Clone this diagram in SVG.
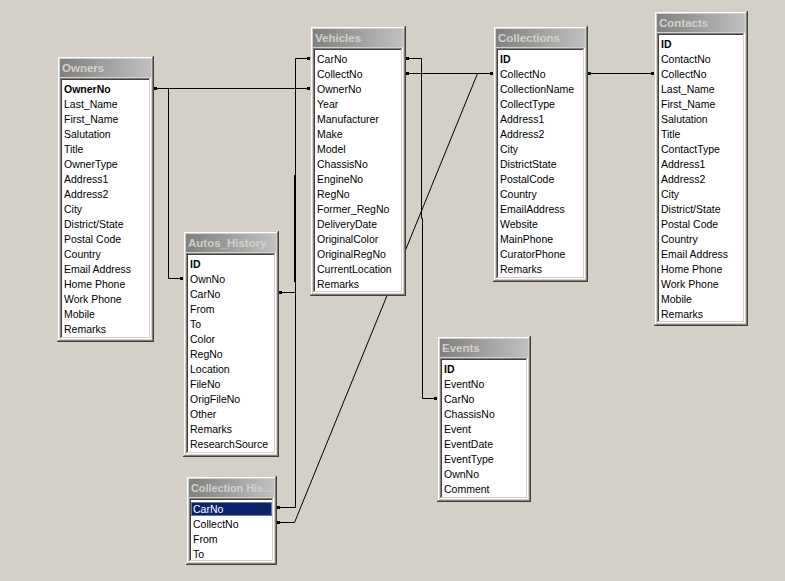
<svg xmlns="http://www.w3.org/2000/svg" width="785" height="581" viewBox="0 0 785 581">
<defs>
<linearGradient id="cap" x1="0" y1="0" x2="1" y2="0">
<stop offset="0" stop-color="#808080"/>
<stop offset="1" stop-color="#C0C0C0"/>
</linearGradient>
</defs>
<style>
.dk{fill:#404040}.fc{fill:#D4D0C8}.sh{fill:#808080}.hl{fill:#FFFFFF}
.cap{fill:url(#cap)}
.t{font-family:"Liberation Sans",Arial,sans-serif;font-size:11.5px;font-weight:bold;fill:#D4D0C8}
.f{font-family:"Liberation Sans",Arial,sans-serif;font-size:10.5px;fill:#000}
.k{font-weight:bold}
.ln{fill:none;stroke:#000;stroke-width:1}
.dot{fill:#000}
</style>
<rect width="785" height="581" fill="#D4D0C8"/>
<g id="connectors">
<path class="ln" d="M154 88.5 H310"/>
<path class="ln" d="M168.5 88 V278.5 H183"/>
<path class="ln" d="M310 58.5 H295.5 V292.5 H279"/>
<path class="ln" d="M295.5 292 V507.5 H277"/>
<path class="ln" d="M294.5 175 V282"/>
<path class="ln" d="M406 73.5 H493"/>
<path class="ln" d="M277 522.5 H294.5 L477.5 73.5"/>
<path class="ln" d="M406 58.5 H421.5 V218.5 H422.5 V398.5 H437"/>
<path class="ln" d="M588 73.5 H654"/>
<rect class="dot" x="154" y="87" width="3" height="3"/>
<rect class="dot" x="307" y="87" width="3" height="3"/>
<rect class="dot" x="180" y="277" width="3" height="3"/>
<rect class="dot" x="307" y="57" width="3" height="3"/>
<rect class="dot" x="279" y="291" width="3" height="3"/>
<rect class="dot" x="277" y="506" width="3" height="3"/>
<rect class="dot" x="277" y="521" width="3" height="3"/>
<rect class="dot" x="406" y="72" width="3" height="3"/>
<rect class="dot" x="490" y="72" width="3" height="3"/>
<rect class="dot" x="406" y="57" width="3" height="3"/>
<rect class="dot" x="434" y="397" width="3" height="3"/>
<rect class="dot" x="588" y="72" width="3" height="3"/>
<rect class="dot" x="651" y="72" width="3" height="3"/>
</g>
<g id="owners">
<rect class="dk" x="57" y="56" width="97" height="286"/>
<rect class="fc" x="57" y="56" width="96" height="285"/>
<rect class="sh" x="58" y="57" width="95" height="284"/>
<rect class="hl" x="58" y="57" width="94" height="283"/>
<rect class="fc" x="59" y="58" width="93" height="282"/>
<rect class="cap" x="60" y="59" width="91" height="18"/>
<text class="t" x="62" y="72">Owners</text>
<rect class="hl" x="60" y="78" width="91" height="261"/>
<rect class="sh" x="60" y="78" width="90" height="260"/>
<rect class="fc" x="61" y="79" width="89" height="259"/>
<rect class="dk" x="61" y="79" width="88" height="258"/>
<rect class="hl" x="62" y="80" width="87" height="257"/>
<text class="f k" x="64" y="93">OwnerNo</text>
<text class="f" x="64" y="108">Last_Name</text>
<text class="f" x="64" y="123">First_Name</text>
<text class="f" x="64" y="138">Salutation</text>
<text class="f" x="64" y="153">Title</text>
<text class="f" x="64" y="168">OwnerType</text>
<text class="f" x="64" y="183">Address1</text>
<text class="f" x="64" y="198">Address2</text>
<text class="f" x="64" y="213">City</text>
<text class="f" x="64" y="228">District/State</text>
<text class="f" x="64" y="243">Postal Code</text>
<text class="f" x="64" y="258">Country</text>
<text class="f" x="64" y="273">Email Address</text>
<text class="f" x="64" y="288">Home Phone</text>
<text class="f" x="64" y="303">Work Phone</text>
<text class="f" x="64" y="318">Mobile</text>
<text class="f" x="64" y="333">Remarks</text>
</g>
<g id="vehicles">
<rect class="dk" x="310" y="26" width="96" height="270"/>
<rect class="fc" x="310" y="26" width="95" height="269"/>
<rect class="sh" x="311" y="27" width="94" height="268"/>
<rect class="hl" x="311" y="27" width="93" height="267"/>
<rect class="fc" x="312" y="28" width="92" height="266"/>
<rect class="cap" x="313" y="29" width="90" height="18"/>
<text class="t" x="315" y="42">Vehicles</text>
<rect class="hl" x="313" y="48" width="90" height="245"/>
<rect class="sh" x="313" y="48" width="89" height="244"/>
<rect class="fc" x="314" y="49" width="88" height="243"/>
<rect class="dk" x="314" y="49" width="87" height="242"/>
<rect class="hl" x="315" y="50" width="86" height="241"/>
<text class="f" x="317" y="63">CarNo</text>
<text class="f" x="317" y="78">CollectNo</text>
<text class="f" x="317" y="93">OwnerNo</text>
<text class="f" x="317" y="108">Year</text>
<text class="f" x="317" y="123">Manufacturer</text>
<text class="f" x="317" y="138">Make</text>
<text class="f" x="317" y="153">Model</text>
<text class="f" x="317" y="168">ChassisNo</text>
<text class="f" x="317" y="183">EngineNo</text>
<text class="f" x="317" y="198">RegNo</text>
<text class="f" x="317" y="213">Former_RegNo</text>
<text class="f" x="317" y="228">DeliveryDate</text>
<text class="f" x="317" y="243">OriginalColor</text>
<text class="f" x="317" y="258">OriginalRegNo</text>
<text class="f" x="317" y="273">CurrentLocation</text>
<text class="f" x="317" y="288">Remarks</text>
</g>
<g id="collections">
<rect class="dk" x="493" y="26" width="95" height="256"/>
<rect class="fc" x="493" y="26" width="94" height="255"/>
<rect class="sh" x="494" y="27" width="93" height="254"/>
<rect class="hl" x="494" y="27" width="92" height="253"/>
<rect class="fc" x="495" y="28" width="91" height="252"/>
<rect class="cap" x="496" y="29" width="89" height="18"/>
<text class="t" x="498" y="42">Collections</text>
<rect class="hl" x="496" y="48" width="89" height="231"/>
<rect class="sh" x="496" y="48" width="88" height="230"/>
<rect class="fc" x="497" y="49" width="87" height="229"/>
<rect class="dk" x="497" y="49" width="86" height="228"/>
<rect class="hl" x="498" y="50" width="85" height="227"/>
<text class="f k" x="500" y="63">ID</text>
<text class="f" x="500" y="78">CollectNo</text>
<text class="f" x="500" y="93">CollectionName</text>
<text class="f" x="500" y="108">CollectType</text>
<text class="f" x="500" y="123">Address1</text>
<text class="f" x="500" y="138">Address2</text>
<text class="f" x="500" y="153">City</text>
<text class="f" x="500" y="168">DistrictState</text>
<text class="f" x="500" y="183">PostalCode</text>
<text class="f" x="500" y="198">Country</text>
<text class="f" x="500" y="213">EmailAddress</text>
<text class="f" x="500" y="228">Website</text>
<text class="f" x="500" y="243">MainPhone</text>
<text class="f" x="500" y="258">CuratorPhone</text>
<text class="f" x="500" y="273">Remarks</text>
</g>
<g id="contacts">
<rect class="dk" x="654" y="11" width="94" height="315"/>
<rect class="fc" x="654" y="11" width="93" height="314"/>
<rect class="sh" x="655" y="12" width="92" height="313"/>
<rect class="hl" x="655" y="12" width="91" height="312"/>
<rect class="fc" x="656" y="13" width="90" height="311"/>
<rect class="cap" x="657" y="14" width="88" height="18"/>
<text class="t" x="659" y="27">Contacts</text>
<rect class="hl" x="657" y="33" width="88" height="290"/>
<rect class="sh" x="657" y="33" width="87" height="289"/>
<rect class="fc" x="658" y="34" width="86" height="288"/>
<rect class="dk" x="658" y="34" width="85" height="287"/>
<rect class="hl" x="659" y="35" width="84" height="286"/>
<text class="f k" x="661" y="48">ID</text>
<text class="f" x="661" y="63">ContactNo</text>
<text class="f" x="661" y="78">CollectNo</text>
<text class="f" x="661" y="93">Last_Name</text>
<text class="f" x="661" y="108">First_Name</text>
<text class="f" x="661" y="123">Salutation</text>
<text class="f" x="661" y="138">Title</text>
<text class="f" x="661" y="153">ContactType</text>
<text class="f" x="661" y="168">Address1</text>
<text class="f" x="661" y="183">Address2</text>
<text class="f" x="661" y="198">City</text>
<text class="f" x="661" y="213">District/State</text>
<text class="f" x="661" y="228">Postal Code</text>
<text class="f" x="661" y="243">Country</text>
<text class="f" x="661" y="258">Email Address</text>
<text class="f" x="661" y="273">Home Phone</text>
<text class="f" x="661" y="288">Work Phone</text>
<text class="f" x="661" y="303">Mobile</text>
<text class="f" x="661" y="318">Remarks</text>
</g>
<g id="autos_history">
<rect class="dk" x="183" y="231" width="96" height="226"/>
<rect class="fc" x="183" y="231" width="95" height="225"/>
<rect class="sh" x="184" y="232" width="94" height="224"/>
<rect class="hl" x="184" y="232" width="93" height="223"/>
<rect class="fc" x="185" y="233" width="92" height="222"/>
<rect class="cap" x="186" y="234" width="90" height="18"/>
<text class="t" x="188" y="247">Autos_History</text>
<rect class="hl" x="186" y="253" width="90" height="201"/>
<rect class="sh" x="186" y="253" width="89" height="200"/>
<rect class="fc" x="187" y="254" width="88" height="199"/>
<rect class="dk" x="187" y="254" width="87" height="198"/>
<rect class="hl" x="188" y="255" width="86" height="197"/>
<text class="f k" x="190" y="268">ID</text>
<text class="f" x="190" y="283">OwnNo</text>
<text class="f" x="190" y="298">CarNo</text>
<text class="f" x="190" y="313">From</text>
<text class="f" x="190" y="328">To</text>
<text class="f" x="190" y="343">Color</text>
<text class="f" x="190" y="358">RegNo</text>
<text class="f" x="190" y="373">Location</text>
<text class="f" x="190" y="388">FileNo</text>
<text class="f" x="190" y="403">OrigFileNo</text>
<text class="f" x="190" y="418">Other</text>
<text class="f" x="190" y="433">Remarks</text>
<text class="f" x="190" y="448">ResearchSource</text>
</g>
<g id="events">
<rect class="dk" x="437" y="336" width="94" height="166"/>
<rect class="fc" x="437" y="336" width="93" height="165"/>
<rect class="sh" x="438" y="337" width="92" height="164"/>
<rect class="hl" x="438" y="337" width="91" height="163"/>
<rect class="fc" x="439" y="338" width="90" height="162"/>
<rect class="cap" x="440" y="339" width="88" height="18"/>
<text class="t" x="442" y="352">Events</text>
<rect class="hl" x="440" y="358" width="88" height="141"/>
<rect class="sh" x="440" y="358" width="87" height="140"/>
<rect class="fc" x="441" y="359" width="86" height="139"/>
<rect class="dk" x="441" y="359" width="85" height="138"/>
<rect class="hl" x="442" y="360" width="84" height="137"/>
<text class="f k" x="444" y="373">ID</text>
<text class="f" x="444" y="388">EventNo</text>
<text class="f" x="444" y="403">CarNo</text>
<text class="f" x="444" y="418">ChassisNo</text>
<text class="f" x="444" y="433">Event</text>
<text class="f" x="444" y="448">EventDate</text>
<text class="f" x="444" y="463">EventType</text>
<text class="f" x="444" y="478">OwnNo</text>
<text class="f" x="444" y="493">Comment</text>
</g>
<g id="collection_his">
<rect class="dk" x="186" y="476" width="91" height="89"/>
<rect class="fc" x="186" y="476" width="90" height="88"/>
<rect class="sh" x="187" y="477" width="89" height="87"/>
<rect class="hl" x="187" y="477" width="88" height="86"/>
<rect class="fc" x="188" y="478" width="87" height="85"/>
<rect class="cap" x="189" y="479" width="85" height="18"/>
<text class="t" x="191" y="492" textLength="81" lengthAdjust="spacingAndGlyphs">Collection His...</text>
<rect class="hl" x="189" y="498" width="85" height="64"/>
<rect class="sh" x="189" y="498" width="84" height="63"/>
<rect class="fc" x="190" y="499" width="83" height="62"/>
<rect class="dk" x="190" y="499" width="82" height="61"/>
<rect class="hl" x="191" y="500" width="81" height="60"/>
<rect x="191" y="502" width="81" height="14" fill="#0A246A"/>
<rect x="191.5" y="502.5" width="80" height="13" fill="none" stroke="#D4D0C8" stroke-dasharray="1 1"/>
<text class="f" x="193" y="513" fill="#FFFFFF" style="fill:#FFFFFF">CarNo</text>
<text class="f" x="193" y="528">CollectNo</text>
<text class="f" x="193" y="543">From</text>
<text class="f" x="193" y="558">To</text>
</g>
</svg>
